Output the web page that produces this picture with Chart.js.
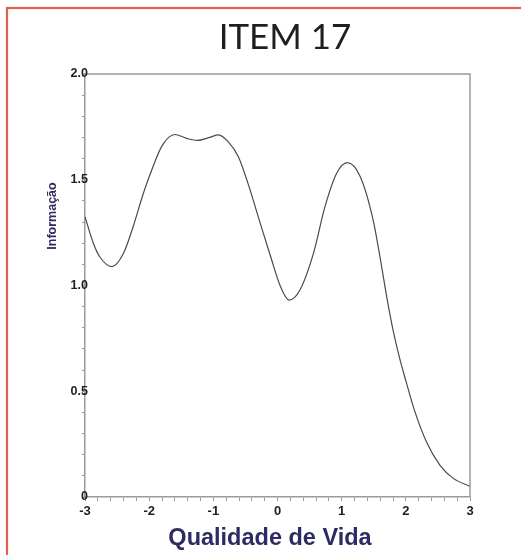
<!DOCTYPE html>
<html>
<head>
<meta charset="utf-8">
<title>ITEM 17</title>
<script src="https://cdn.jsdelivr.net/npm/chart.js@4/dist/chart.umd.min.js"></script>
<style>
  html, body { margin: 0; padding: 0; background: #fff; overflow: hidden; }
  #wrap { position: relative; width: 521px; height: 555px; }
</style>
</head>
<body>
<div id="wrap"><canvas id="c" width="521" height="555"></canvas></div>
<script>
// Item information curve: theta (Qualidade de Vida) vs information
const thetaValues = [-3.0, -2.87, -2.77, -2.58, -2.40, -2.25, -2.09, -1.96, -1.80, -1.60,
                     -1.42, -1.25, -1.06, -0.92, -0.77, -0.61, -0.46, -0.285, -0.10, 0.04,
                     0.18, 0.35, 0.56, 0.74, 0.92, 1.09, 1.29, 1.49, 1.60, 1.70,
                     1.80, 1.90, 2.00, 2.14, 2.33, 2.53, 2.74, 3.0];
const infoValues  = [1.325, 1.20, 1.136, 1.089, 1.152, 1.278, 1.436, 1.546, 1.660, 1.714,
                     1.696, 1.686, 1.700, 1.712, 1.680, 1.609, 1.483, 1.31, 1.13, 1.0,
                     0.931, 0.979, 1.152, 1.373, 1.530, 1.581, 1.514, 1.310, 1.13, 0.95,
                     0.79, 0.66, 0.55, 0.405, 0.255, 0.151, 0.088, 0.05];
const xTickLabels = ['-3', '-2', '-1', '0', '1', '2', '3'];
const yTickValues = [0, 0.5, 1.0, 1.5, 2.0];
const yTickLabels = ['0', '0.5', '1.0', '1.5', '2.0'];

const chartTitle = 'ITEM 17';
const xAxisTitle = 'Qualidade de Vida';
const yAxisTitle = 'Informação';

const points = thetaValues.map((t, i) => ({ x: t, y: infoValues[i] }));

const axisGray = '#9a9a9a';
const navy = '#2d2b62';
const labelFont = '"Liberation Sans", Arial, sans-serif';

// frame, titles, value labels on the y axis and closing box lines
const decor = {
  id: 'decor',
  beforeDraw(chart) {
    const ctx = chart.ctx;
    ctx.save();
    ctx.fillStyle = '#fff';
    ctx.fillRect(0, 0, chart.width, chart.height);
    ctx.strokeStyle = '#e2604c';
    ctx.lineWidth = 2.2;
    ctx.strokeRect(7, 8, 700, 700);
    ctx.restore();
  },
  afterDraw(chart) {
    const ctx = chart.ctx;
    const a = chart.chartArea;
    const ys = chart.scales.y;
    ctx.save();
    ctx.strokeStyle = axisGray;
    ctx.lineWidth = 1.5;
    ctx.beginPath();
    ctx.moveTo(a.left, a.top);
    ctx.lineTo(a.right, a.top);
    ctx.lineTo(a.right, a.bottom);
    ctx.stroke();

    // y labels sit over the axis line, right edge just past it
    ctx.fillStyle = '#1e1e1e';
    ctx.font = 'bold 12.5px ' + labelFont;
    ctx.textAlign = 'right';
    ctx.textBaseline = 'middle';
    yTickValues.forEach((v, i) => {
      ctx.fillText(yTickLabels[i], a.left + 3, ys.getPixelForValue(v));
    });

    ctx.fillStyle = '#1e1e1e';
    ctx.font = '35px Lato';
    ctx.textAlign = 'center';
    ctx.textBaseline = 'alphabetic';
    ctx.fillText(chartTitle, 285, 49);

    ctx.fillStyle = navy;
    ctx.font = 'bold 23.5px ' + labelFont;
    ctx.fillText(xAxisTitle, 270, 545);

    ctx.translate(56, 216);
    ctx.rotate(-Math.PI / 2);
    ctx.font = 'bold 12.5px ' + labelFont;
    ctx.fillText(yAxisTitle, 0, 0);
    ctx.restore();
  }
};

const near = (v, step) => Math.abs(v / step - Math.round(v / step)) < 1e-6;

new Chart(document.getElementById('c'), {
  type: 'line',
  data: {
    datasets: [{
      data: points,
      borderColor: '#4a4a4a',
      borderWidth: 1.2,
      pointRadius: 0,
      fill: false,
      cubicInterpolationMode: 'monotone'
    }]
  },
  options: {
    responsive: false,
    animation: false,
    events: [],
    layout: { padding: { left: 0, right: 51, top: 74, bottom: 0 } },
    plugins: { legend: { display: false }, title: { display: false }, tooltip: { enabled: false } },
    scales: {
      x: {
        type: 'linear',
        min: -3, max: 3,
        afterFit(s) { s.height = 58; },
        grid: { drawOnChartArea: false, drawTicks: true, tickLength: 4, color: axisGray, lineWidth: 1 },
        border: { display: true, color: axisGray, width: 1.5 },
        ticks: {
          stepSize: 0.2,
          autoSkip: false,
          maxRotation: 0,
          padding: 3,
          color: '#1e1e1e',
          font: { family: labelFont, size: 13, weight: 'bold' },
          callback: (v) => near(v, 1) ? xTickLabels[Math.round(v) + 3] : ''
        }
      },
      y: {
        type: 'linear',
        min: 0, max: 2,
        afterFit(s) { s.width = 85; },
        grid: { drawOnChartArea: false, drawTicks: true, tickLength: 3, color: axisGray, lineWidth: 1 },
        border: { display: true, color: axisGray, width: 1.5 },
        ticks: { stepSize: 0.1, autoSkip: false, display: false }
      }
    }
  },
  plugins: [decor]
});
</script>
</body>
</html>
